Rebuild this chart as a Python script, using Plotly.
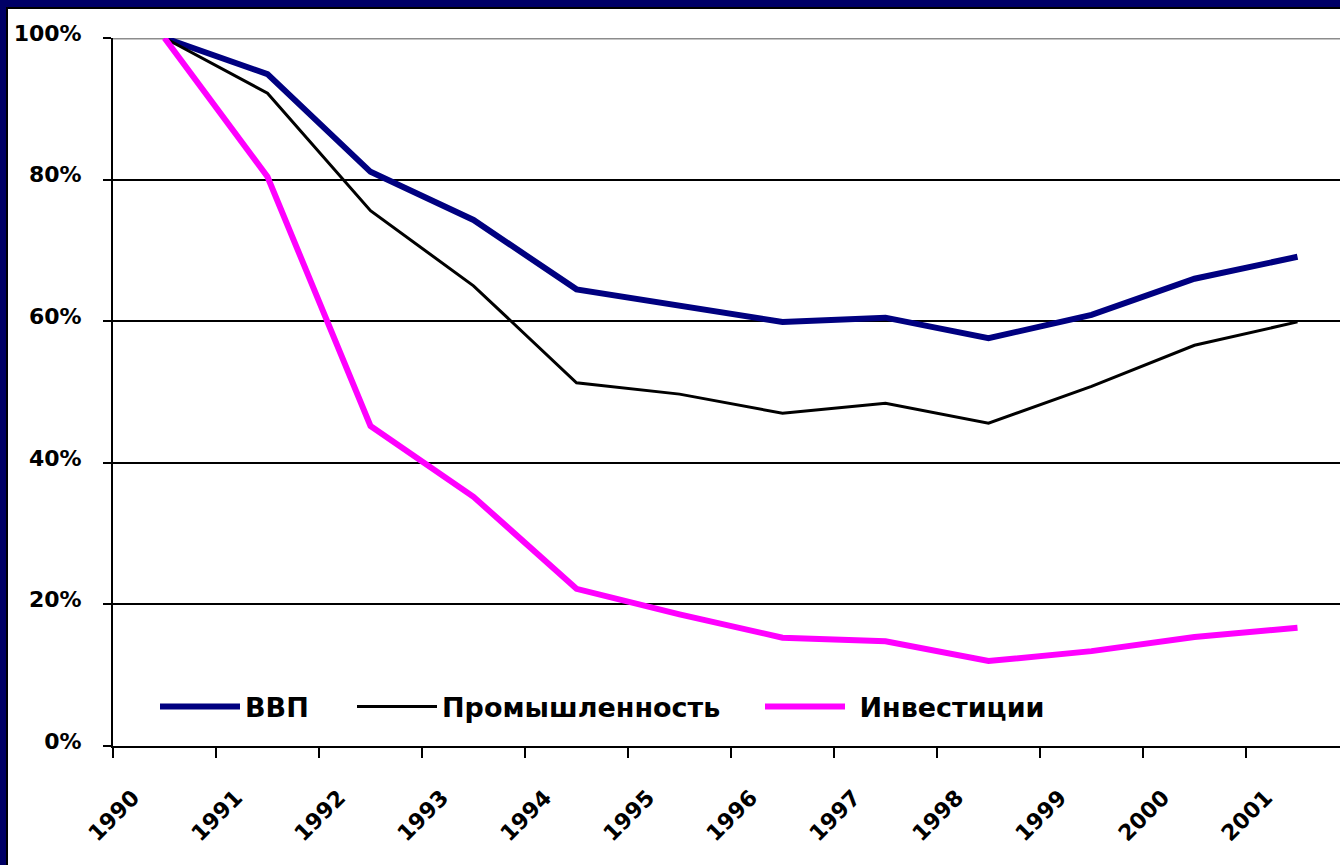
import plotly.graph_objects as go

years = [1990, 1991, 1992, 1993, 1994, 1995, 1996, 1997, 1998, 1999, 2000, 2001]
gdp = [100, 94.9, 81.1, 74.3, 64.5, 62.3, 59.9, 60.5, 57.6, 60.9, 66.0, 69.1]
industry = [100, 92.2, 75.6, 65.0, 51.3, 49.7, 47.0, 48.4, 45.6, 50.8, 56.6, 59.9]
investment = [100, 80.4, 45.2, 35.2, 22.2, 18.6, 15.3, 14.8, 12.0, 13.4, 15.4, 16.7]
y_ticks = [0, 20, 40, 60, 80, 100]
y_labels = ["0%", "20%", "40%", "60%", "80%", "100%"]

FONT = "DejaVu Sans, Liberation Sans, Arial, sans-serif"
W, H = 1340, 865
L, R, T, B = 113, 0, 38, 119
PW, PH = W - L - R, H - T - B


def px_x(px):
    return (px - L) / PW


def px_y(py):
    return (H - B - py) / PH


fig = go.Figure()
fig.add_trace(go.Scatter(x=years, y=gdp, name="ВВП", mode="lines", legend="legend",
                         line=dict(color="#000080", width=6)))
fig.add_trace(go.Scatter(x=years, y=industry, name="Промышленность", mode="lines", legend="legend2",
                         line=dict(color="#000000", width=3)))
fig.add_trace(go.Scatter(x=years, y=investment, name="\u00a0Инвестиции", mode="lines", legend="legend3",
                         line=dict(color="#FF00FF", width=6)))

cat_w = 103.0
x0 = years[0] - 0.5
x1 = x0 + PW / cat_w

shapes = [
    dict(type="line", xref="paper", yref="y", x0=0, x1=1, y0=100, y1=100,
         line=dict(color="#8c8c8c", width=3), layer="between"),
    dict(type="rect", xref="paper", yref="paper", x0=px_x(0), x1=px_x(6),
         y0=px_y(H), y1=px_y(0), fillcolor="#000066", line=dict(width=0)),
    dict(type="rect", xref="paper", yref="paper", x0=px_x(6), x1=px_x(8),
         y0=px_y(H), y1=px_y(7), fillcolor="#000000", line=dict(width=0)),
    dict(type="rect", xref="paper", yref="paper", x0=px_x(0), x1=px_x(W),
         y0=px_y(7), y1=px_y(0), fillcolor="#000066", line=dict(width=0)),
    dict(type="rect", xref="paper", yref="paper", x0=px_x(6), x1=px_x(W),
         y0=px_y(9), y1=px_y(7), fillcolor="#000000", line=dict(width=0)),
]

legend_font = dict(family=FONT, size=27, color="black", weight="bold")


def make_legend(px_left):
    return dict(orientation="h", x=px_x(px_left), y=px_y(707), xanchor="left", yanchor="middle",
                font=legend_font, bgcolor="rgba(0,0,0,0)", itemwidth=80)


fig.update_layout(
    width=W, height=H,
    margin=dict(l=L, r=R, t=T, b=B, pad=0),
    paper_bgcolor="white", plot_bgcolor="white",
    font=dict(family=FONT, size=22, color="black"),
    showlegend=True,
    legend=make_legend(155),
    legend2=make_legend(352),
    legend3=make_legend(760),
    shapes=shapes,
    xaxis=dict(range=[x0, x1], tickmode="array",
               tickvals=[y - 0.5 for y in years], ticktext=[str(y) for y in years],
               tickangle=-45, ticks="outside", ticklen=10, tickwidth=2, tickcolor="black",
               showline=True, linecolor="black", linewidth=2, showgrid=False, zeroline=False,
               tickfont=dict(family=FONT, size=22, color="black", weight="bold"),
               ticklabelshift=20, ticklabelstandoff=18),
    yaxis=dict(range=[0, 100], tickmode="array", tickvals=y_ticks, ticktext=y_labels,
               ticks="outside", ticklen=8, tickwidth=2, tickcolor="black",
               showline=True, linecolor="black", linewidth=2,
               showgrid=True, gridcolor="black", gridwidth=1.5, zeroline=False,
               tickfont=dict(family=FONT, size=22, color="black", weight="bold"),
               ticklabelstandoff=17, ticklabelshift=-5),
)

fig.write_html("out.html", config={"displayModeBar": False},
               post_script="document.body.style.margin='0px';document.body.style.overflow='hidden';")
